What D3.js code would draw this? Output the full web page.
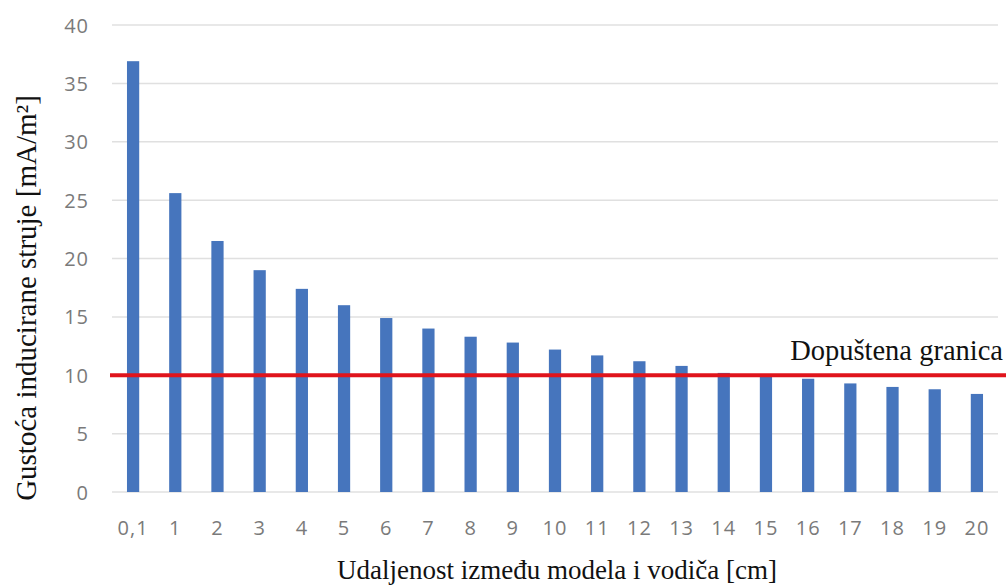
<!DOCTYPE html>
<html><head><meta charset="utf-8">
<script src="https://cdn.jsdelivr.net/npm/d3@7"></script>
<style>body{margin:0;background:#fff}svg{display:block}</style>
</head><body>
<svg id="c" width="1006" height="587"></svg>
<script>
const categories = ["0,1","1","2","3","4","5","6","7","8","9","10","11","12","13","14","15","16","17","18","19","20"];
const values = [36.9,25.6,21.5,19.0,17.4,16.0,14.9,14.0,13.3,12.8,12.2,11.7,11.2,10.8,10.2,10.1,9.7,9.3,9.0,8.8,8.4];
const yTicks = [0,5,10,15,20,25,30,35,40];
const limitValue = 10;
const limitLabel = "Dopuštena granica";
const xTitle = "Udaljenost između modela i vodiča [cm]";
const yTitle = "Gustoća inducirane struje [mA/m²]";

(function(){
const svg = d3.select("#c");
const pL = 112, pR = 998, pT = 25, pB = 492;
const x = d3.scaleBand().domain(categories).range([pL, pR]).paddingInner(0.71).paddingOuter(0.355);
const y = d3.scaleLinear().domain([0, 40]).range([pB, pT]);

// gridlines
svg.append("g").selectAll("line").data(yTicks).join("line")
  .attr("x1", pL).attr("x2", pR)
  .attr("y1", d => y(d)).attr("y2", d => y(d))
  .attr("stroke", "#e0e0e0").attr("stroke-width", 1.5);

// y axis labels
const yAxis = d3.axisLeft(y).tickValues(yTicks).tickSize(0).tickPadding(0);
const gy = svg.append("g").attr("transform", `translate(${pL - 23},0)`).call(yAxis);
gy.select(".domain").remove();
gy.selectAll("text").attr("font-family", "'Open Sans', sans-serif").attr("font-size", 20).attr("letter-spacing", "1px").attr("fill", "#7a7a7a").attr("dy", "0.35em");

// x axis labels
const xAxis = d3.axisBottom(x).tickSize(0).tickPadding(0);
const gx = svg.append("g").attr("transform", `translate(0,${pB + 36})`).call(xAxis);
gx.select(".domain").remove();
gx.selectAll("text").attr("font-family", "'Open Sans', sans-serif").attr("font-size", 20).attr("letter-spacing", "1px").attr("fill", "#7a7a7a").attr("dy", "0.35em");

// bars
svg.append("g").selectAll("rect").data(values).join("rect")
  .attr("x", (d, i) => x(categories[i]))
  .attr("width", x.bandwidth())
  .attr("y", d => y(d))
  .attr("height", d => y(0) - y(d))
  .attr("fill", "#4675bd");

// limit line
svg.append("line")
  .attr("x1", pL - 2).attr("x2", 1006)
  .attr("y1", y(limitValue)).attr("y2", y(limitValue))
  .attr("stroke", "#e0141c").attr("stroke-width", 4);

svg.append("text").text(limitLabel)
  .attr("x", 1003).attr("y", y(limitValue) - 15)
  .attr("text-anchor", "end")
  .attr("font-family", "'Liberation Serif', serif").attr("font-size", 28.5).attr("fill", "#111");

// axis titles
svg.append("text").text(xTitle)
  .attr("x", 557).attr("y", 579).attr("text-anchor", "middle")
  .attr("font-family", "'Liberation Serif', serif").attr("font-size", 27).attr("fill", "#111");

svg.append("text").text(yTitle)
  .attr("transform", "translate(36,298) rotate(-90)").attr("text-anchor", "middle")
  .attr("font-family", "'Liberation Serif', serif").attr("font-size", 29).attr("fill", "#111");
})();
</script>
</body></html>
